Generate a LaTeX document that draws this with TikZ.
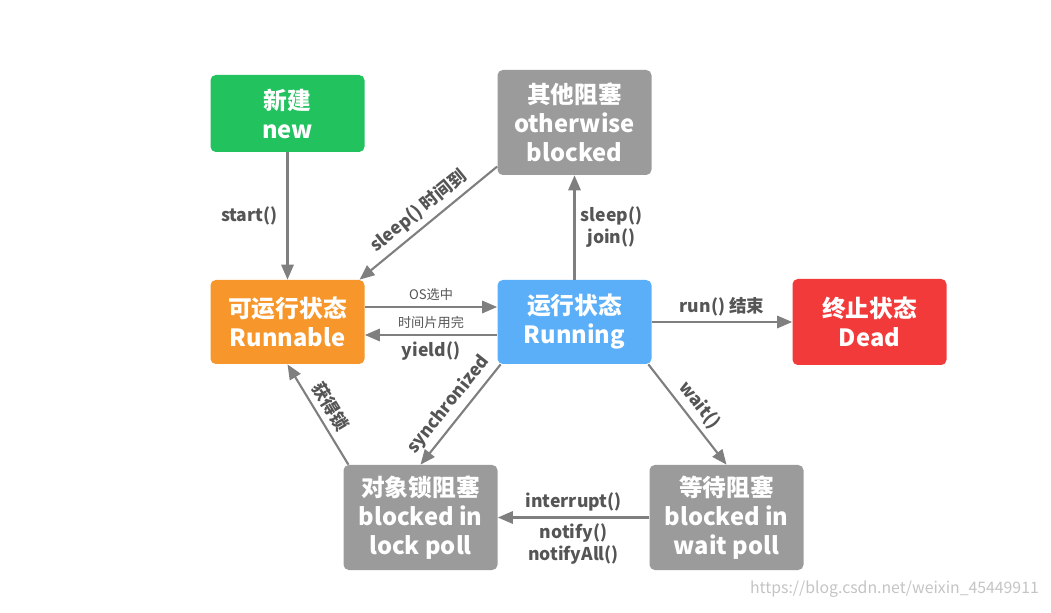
\documentclass[tikz,border=0pt]{standalone}
\usepackage{fontspec}
\setmainfont{Noto Sans CJK SC}
\usepackage{tikz}
\usetikzlibrary{arrows.meta}
\definecolor{newgreen}{HTML}{22C25F}
\definecolor{blockgray}{HTML}{9B9B9B}
\definecolor{runorange}{HTML}{F7962B}
\definecolor{runblue}{HTML}{5AAFF8}
\definecolor{deadred}{HTML}{F23A3A}
\definecolor{arrowgray}{HTML}{7F7F7F}
\definecolor{lblgray}{HTML}{555555}
\definecolor{markgray}{HTML}{C4C4C4}
\tikzset{
  stnode/.style={rounded corners=3pt, minimum width=3.08cm, align=center, text=white,
    font=\bfseries\fontsize{13.5}{16.5}\selectfont, inner sep=2pt},
  trans/.style={draw=arrowgray, line width=1.2pt, -{Triangle[length=8.5pt,width=7pt]}},
  lbl/.style={text=lblgray, font=\bfseries\fontsize{10}{12.5}\selectfont, inner sep=3pt},
  smalllbl/.style={text=lblgray, font=\fontsize{7.5}{8.5}\selectfont, inner sep=3pt}
}
\newcommand{\statebox}[6]{\node[stnode,fill=#4,minimum height=#5] (#1) at ( #2 , #3 ) {#6};}
\begin{document}
\begin{tikzpicture}
        \useasboundingbox (0,0) rectangle (21.02,12.24);
        %nodes
        \statebox{new}{5.75}{9.97}{newgreen}{1.54cm}{新建\\new}
        \statebox{other}{11.49}{9.79}{blockgray}{2.1cm}{其他阻塞\\otherwise\\blocked}
        \statebox{runnable}{5.75}{5.80}{runorange}{1.68cm}{可运行状态\\Runnable}
        \statebox{running}{11.49}{5.80}{runblue}{1.68cm}{运行状态\\Running}
        \statebox{dead}{17.39}{5.80}{deadred}{1.72cm}{终止状态\\Dead}
        \statebox{lock}{8.41}{1.89}{blockgray}{2.1cm}{对象锁阻塞\\blocked in\\lock poll}
        \statebox{wait}{14.53}{1.89}{blockgray}{2.1cm}{等待阻塞\\blocked in\\wait poll}
        \node[font=\fontsize{9}{10}\selectfont, text=markgray, anchor=east] (mark) at (20.9,0.46) {https://blog.csdn.net/weixin\_45449911};
        %edges
        \draw[trans] (new) -- node[lbl,left,xshift=-2pt] {start()} (runnable);
        \draw[trans] ([yshift=5pt]other.south west) -- node[lbl,sloped,above] {sleep() 时间到} ([xshift=-3pt]runnable.north east);
        \draw[trans] (running) -- node[lbl,right,align=center] {sleep()\\join()} (other);
        \draw[trans] ([yshift=0.3cm]runnable.east) -- node[smalllbl,above] {OS选中} ([yshift=0.3cm]running.west);
        \draw[trans] ([yshift=-0.26cm]running.west) -- node[smalllbl,above] {时间片用完} node[lbl,below] {yield()} ([yshift=-0.26cm]runnable.east);
        \draw[trans] (running) -- node[lbl,above] {run() 结束} (dead);
        \draw[trans] ([xshift=2pt]running.south west) -- node[lbl,sloped,above] {synchronized} (lock.north);
        \draw[trans] ([xshift=-2pt]running.south east) -- node[lbl,sloped,above] {wait()} (wait.north);
        \draw[trans] ([xshift=3pt]lock.north west) -- node[lbl,sloped,above] {获得锁} (runnable.south);
        \draw[trans] (wait) -- node[lbl,above] {interrupt()} node[lbl,below,align=center] {notify()\\notifyAll()} (lock);
\end{tikzpicture}
\end{document}
